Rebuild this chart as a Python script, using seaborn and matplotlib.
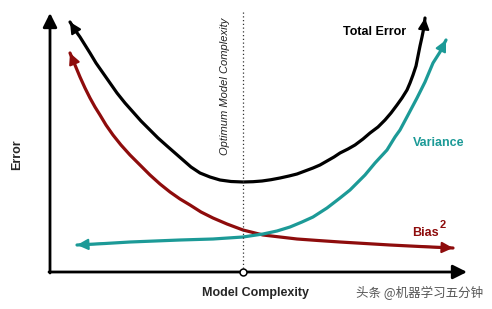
import numpy as np
import pandas as pd
import matplotlib
matplotlib.use("Agg")
import matplotlib.pyplot as plt
import seaborn as sns

# ---- data (x = model complexity, y = error) ----
total_x = [20, 25, 30, 35, 40, 46, 53, 60, 67, 75, 83, 91, 100, 108, 117, 125, 133, 141, 150, 160, 170, 181, 193, 203, 212, 221, 230, 239, 247, 255, 263, 270, 277, 284, 290, 298, 305, 313, 320, 328, 335, 341, 347, 352, 357, 360, 363, 366, 368, 370, 372, 374, 375]
total_y = [250, 242, 235, 227, 219, 209, 199, 189, 179, 169, 160, 151, 142, 134, 126, 119, 112, 105, 99, 95, 92, 90.5, 90, 90.3, 91, 92.3, 94, 96, 98, 101, 104, 107, 111, 115, 119, 123, 127, 133, 139, 145, 152, 159, 167, 174, 182, 189, 197, 206, 216, 226, 235, 245, 254]

bias_x = [20, 25, 30, 35, 40, 45, 50, 56, 63, 71, 80, 90, 100, 110, 120, 130, 140, 151, 163, 177, 193, 203, 213, 230, 247, 268, 290, 315, 340, 370, 403]
bias_y = [219, 207, 195, 184, 174, 165, 157, 147, 137, 127, 117, 107, 97, 88, 80, 73, 67, 60, 54, 48, 42, 39.5, 37, 35, 33, 31.5, 30, 28.5, 27, 25.5, 24]

var_x = [27, 55, 80, 105, 130, 163, 193, 213, 227, 240, 252, 263, 277, 290, 300, 315, 325, 337, 345, 350, 358, 367, 375, 383, 390, 396]
var_y = [27, 28.5, 30, 31, 32, 33, 35, 38, 41, 45, 50, 55, 64, 74, 82, 97, 109, 122, 135, 142, 157, 174, 190, 209, 220, 232]

optimum_x = 193
colors = {"Total Error": "#000000", "Bias": "#8E0C0C", "Variance": "#1C9A97"}

curves = [("Total Error", total_x, total_y), ("Bias", bias_x, bias_y), ("Variance", var_x, var_y)]
frames = []
for name, xs, ys in curves:
    frames.append(pd.DataFrame({"complexity": xs, "error": ys, "component": name}))
df = pd.concat(frames, ignore_index=True)

sns.set_theme(style="white")
plt.rcParams["font.family"] = ["Liberation Sans", "DejaVu Sans"]

fig = plt.figure(figsize=(4.92, 3.09), dpi=100)
ax = fig.add_axes([0, 0, 1, 1])
ax.set_xlim(-50, 442)
ax.set_ylim(-37, 272)
ax.axis("off")

sns.lineplot(data=df, x="complexity", y="error", hue="component", units="component",
             estimator=None, sort=False, palette=colors, linewidth=2.3, legend=False, ax=ax)

# arrowheads at both ends of each curve
for name, xs, ys in curves:
    c = colors[name]
    for (x0, y0), (x1, y1) in [((xs[1], ys[1]), (xs[0], ys[0])), ((xs[-2], ys[-2]), (xs[-1], ys[-1]))]:
        ax.annotate("", xy=(x1, y1), xytext=(x0, y0),
                    arrowprops=dict(arrowstyle="-|>,head_length=0.6,head_width=0.3", color=c,
                                    lw=1.5, shrinkA=0, shrinkB=0, mutation_scale=11))

# axes with arrows
axis_kw = dict(arrowstyle="-|>,head_length=0.6,head_width=0.3", color="black", lw=2.0,
               shrinkA=0, shrinkB=0, mutation_scale=14)
ax.annotate("", xy=(0, 259), xytext=(0, -1), arrowprops=axis_kw)
ax.annotate("", xy=(417, 0), xytext=(-1, 0), arrowprops=axis_kw)

# optimum line
ax.plot([optimum_x, optimum_x], [0, 260], linestyle=(0, (1, 2)), color="#333333", lw=0.9)
ax.plot([optimum_x], [0], marker="o", markersize=5, markerfacecolor="white",
        markeredgecolor="black", markeredgewidth=1.1, zorder=5)

# texts
ax.text(325, 240, "Total Error", ha="center", va="center", fontsize=9, fontweight="bold", color="black")
ax.text(389, 129, "Variance", ha="center", va="center", fontsize=9, fontweight="bold", color=colors["Variance"])
ax.text(362, 39, "Bias", ha="left", va="center", fontsize=9, fontweight="bold", color=colors["Bias"])
ax.text(390, 47, "2", ha="left", va="center", fontsize=8, fontweight="bold", color=colors["Bias"])
ax.text(-33, 117, "Error", ha="center", va="center", rotation=90, fontsize=9, fontweight="bold")
ax.text(206, -21, "Model Complexity", ha="center", va="center", fontsize=9, fontweight="bold")
ax.text(175, 186, "Optimum Model Complexity", ha="center", va="center", rotation=90,
        fontsize=8, fontstyle="italic", color="#222222")
ax.text(370, -21, "头条 @机器学习五分钟", ha="center", va="center", fontsize=9, color="#555555",
        family=["Noto Sans CJK SC", "DejaVu Sans"])

fig.savefig("out.png", dpi=100)
